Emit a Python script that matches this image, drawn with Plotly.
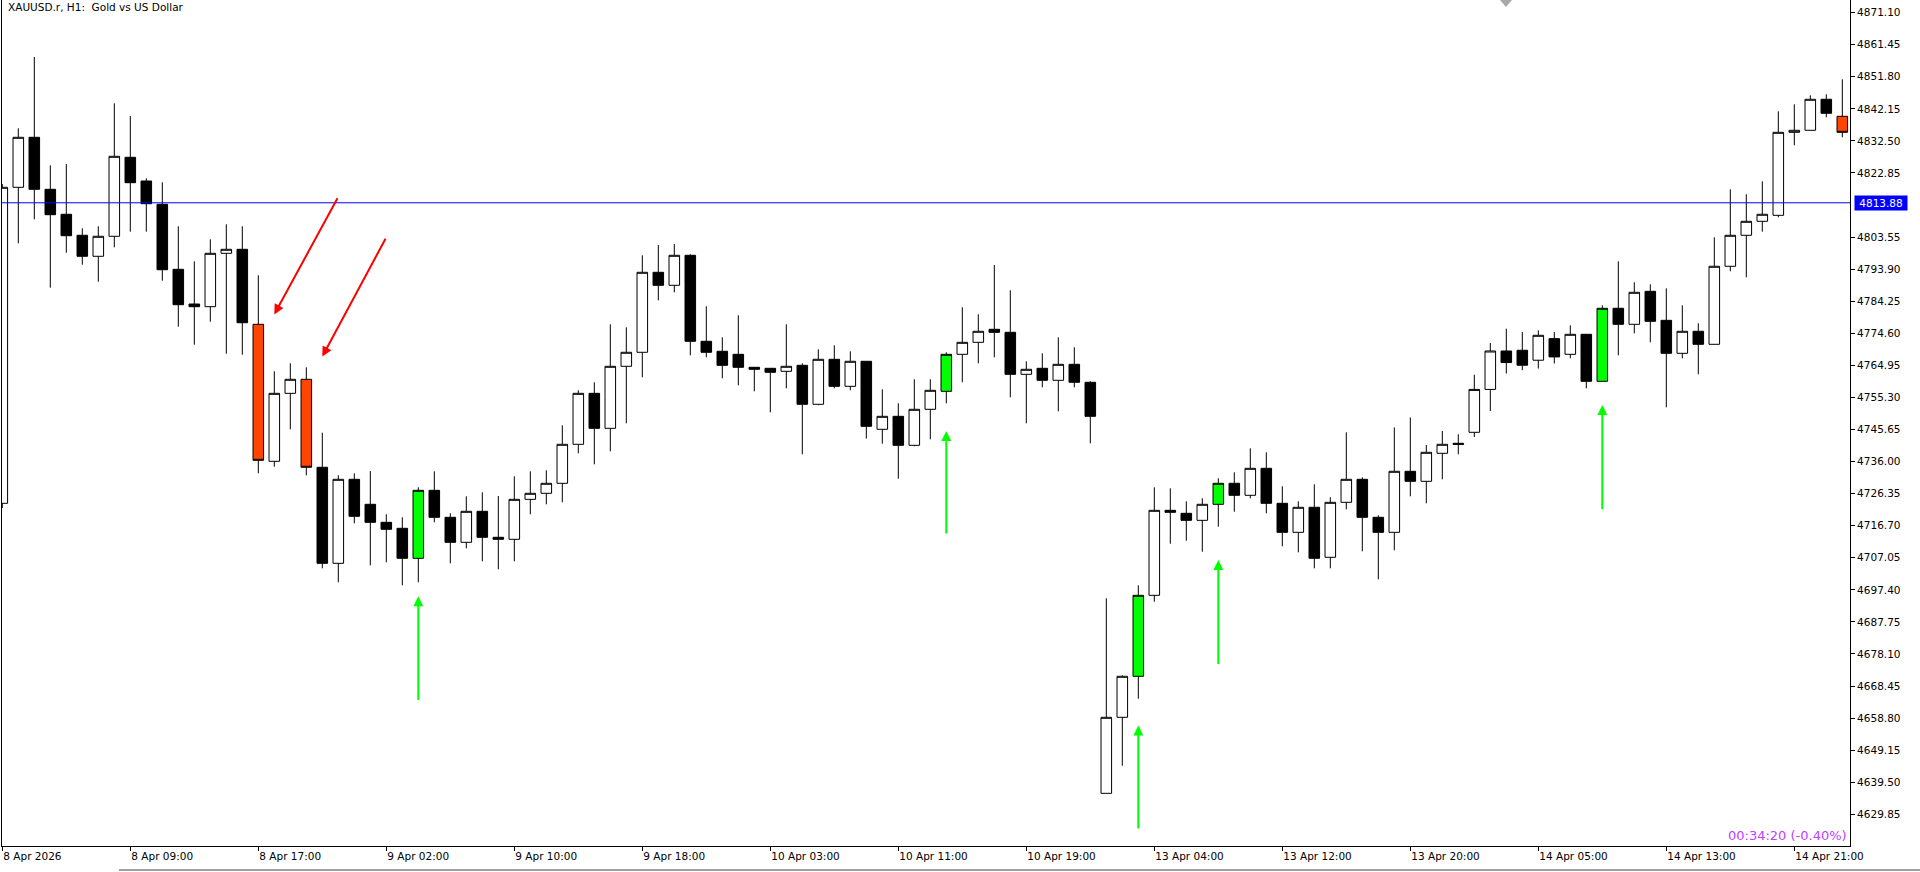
import plotly.graph_objects as go

# XAUUSD.r H1 bars, 8 Apr 2026 01:00 -> 15 Apr 01:00 (server time), one value per bar
open_ = [4723.44, 4818.54, 4833.59, 4817.94, 4810.42, 4804.10, 4797.78, 4803.80, 4827.57, 4820.44,
         4813.43, 4793.86, 4783.42, 4782.61, 4798.68, 4799.88, 4777.31, 4736.08, 4756.54, 4760.76,
         4734.28, 4705.38, 4730.66, 4723.14, 4717.72, 4715.92, 4706.89, 4727.35, 4719.23, 4711.70,
         4721.03, 4713.21, 4712.61, 4724.64, 4726.45, 4729.46, 4741.20, 4756.54, 4746.01, 4764.67,
         4768.89, 4792.96, 4789.05, 4798.08, 4772.20, 4769.19, 4768.28, 4764.37, 4764.07, 4763.17,
         4764.97, 4753.24, 4766.78, 4758.65, 4766.18, 4745.71, 4749.62, 4740.90, 4751.73, 4757.15,
         4768.28, 4771.89, 4775.81, 4774.90, 4762.26, 4764.07, 4760.46, 4765.27, 4759.86, 4636.16,
         4659.04, 4671.38, 4695.75, 4721.33, 4720.43, 4718.32, 4723.14, 4729.46, 4725.85, 4733.97,
         4723.44, 4714.71, 4722.24, 4707.19, 4723.74, 4730.66, 4719.23, 4714.71, 4733.07, 4730.06,
         4738.49, 4741.50, 4744.81, 4757.72, 4769.28, 4769.50, 4766.50, 4773.00, 4768.28, 4774.30,
         4760.16, 4782.13, 4777.31, 4787.24, 4778.51, 4768.58, 4775.21, 4771.29, 4794.77, 4804.10,
         4808.31, 4810.11, 4835.09, 4835.70, 4845.03, 4839.91]
high = [4819.50, 4836.30, 4857.76, 4825.16, 4825.55, 4806.20, 4806.80, 4843.82, 4840.00, 4821.25,
        4820.05, 4806.80, 4796.27, 4802.89, 4807.41, 4806.80, 4792.06, 4763.17, 4765.57, 4764.37,
        4744.69, 4731.87, 4732.47, 4733.16, 4720.13, 4719.23, 4728.26, 4733.07, 4720.43, 4725.55,
        4726.75, 4725.64, 4731.57, 4733.07, 4733.37, 4746.91, 4757.45, 4759.86, 4777.31, 4776.41,
        4798.08, 4801.18, 4801.48, 4798.38, 4782.73, 4773.40, 4780.02, 4764.37, 4764.07, 4777.31,
        4765.57, 4769.79, 4770.99, 4769.19, 4766.18, 4757.75, 4753.54, 4760.76, 4760.76, 4768.89,
        4782.43, 4780.32, 4795.16, 4787.54, 4766.18, 4768.58, 4773.40, 4770.39, 4760.16, 4694.85,
        4671.68, 4698.76, 4728.26, 4727.95, 4724.04, 4724.94, 4730.97, 4732.77, 4739.99, 4738.79,
        4728.56, 4724.04, 4729.16, 4725.25, 4744.81, 4731.27, 4719.83, 4746.28, 4749.26, 4740.99,
        4745.20, 4744.21, 4762.14, 4771.69, 4776.00, 4775.00, 4775.50, 4775.00, 4777.01, 4774.30,
        4783.03, 4796.27, 4789.95, 4789.35, 4788.14, 4783.03, 4777.61, 4803.49, 4817.94, 4816.44,
        4820.35, 4841.41, 4843.52, 4846.23, 4846.53, 4851.04]
low = [4722.00, 4801.69, 4808.91, 4788.33, 4798.86, 4795.25, 4790.13, 4800.48, 4805.18, 4805.18,
       4790.43, 4776.59, 4771.17, 4778.09, 4768.46, 4768.16, 4732.47, 4734.46, 4745.71, 4731.87,
       4703.88, 4699.67, 4717.42, 4704.78, 4705.68, 4698.76, 4699.67, 4717.72, 4705.38, 4709.89,
       4705.98, 4703.58, 4705.98, 4720.13, 4723.14, 4723.74, 4738.49, 4735.18, 4739.09, 4747.52,
       4761.36, 4784.53, 4786.94, 4767.98, 4767.38, 4761.06, 4758.95, 4757.15, 4750.83, 4758.05,
       4738.19, 4752.94, 4758.05, 4757.45, 4742.94, 4741.38, 4730.85, 4740.60, 4742.70, 4753.54,
       4759.86, 4765.57, 4767.38, 4755.34, 4747.52, 4758.35, 4751.13, 4758.35, 4741.50, 4636.16,
       4644.47, 4664.63, 4693.83, 4711.28, 4712.19, 4708.87, 4716.40, 4720.91, 4724.94, 4720.43,
       4710.50, 4708.69, 4703.88, 4703.88, 4721.63, 4708.99, 4700.57, 4709.30, 4725.55, 4723.44,
       4730.66, 4738.19, 4743.39, 4751.22, 4762.50, 4763.50, 4764.00, 4765.50, 4767.08, 4758.05,
       4760.16, 4767.98, 4774.60, 4771.89, 4752.33, 4767.08, 4762.26, 4771.29, 4793.26, 4791.46,
       4805.18, 4809.51, 4831.18, 4835.70, 4839.61, 4833.59]
close = [4818.54, 4833.59, 4817.94, 4810.30, 4803.98, 4797.78, 4803.80, 4827.87, 4819.93, 4813.61,
         4793.74, 4783.21, 4782.61, 4798.68, 4799.88, 4777.79, 4736.38, 4756.54, 4760.76, 4734.28,
         4705.38, 4730.66, 4719.53, 4717.72, 4715.62, 4706.89, 4727.35, 4719.23, 4711.70, 4721.03,
         4713.21, 4712.61, 4724.64, 4726.45, 4729.46, 4741.20, 4756.54, 4746.01, 4764.67, 4768.89,
         4792.96, 4789.05, 4798.08, 4772.20, 4768.89, 4764.97, 4764.37, 4763.77, 4762.87, 4764.67,
         4753.24, 4766.78, 4758.65, 4766.18, 4746.61, 4749.62, 4740.90, 4751.73, 4757.45, 4768.28,
         4771.89, 4775.21, 4774.90, 4762.26, 4763.77, 4760.46, 4765.27, 4759.86, 4749.62, 4659.04,
         4671.38, 4695.75, 4721.33, 4720.73, 4718.32, 4723.14, 4729.46, 4725.85, 4733.97, 4723.44,
         4714.71, 4722.24, 4706.89, 4723.74, 4730.66, 4719.23, 4714.71, 4733.07, 4730.06, 4738.79,
         4741.20, 4741.20, 4757.72, 4769.28, 4765.80, 4765.00, 4774.00, 4767.50, 4774.30, 4760.16,
         4782.13, 4777.31, 4786.94, 4778.21, 4768.58, 4775.21, 4771.29, 4794.77, 4804.10, 4808.31,
         4810.42, 4835.09, 4835.70, 4845.03, 4840.81, 4835.09]

# bars painted by the indicator
red_marked = [16, 19, 115]
green_marked = [26, 59, 71, 76, 100]

price_ticks = [4871.10, 4861.45, 4851.80, 4842.15, 4832.50, 4822.85, 4803.55, 4793.90, 4784.25,
               4774.60, 4764.95, 4755.30, 4745.65, 4736.00, 4726.35, 4716.70, 4707.05, 4697.40,
               4687.75, 4678.10, 4668.45, 4658.80, 4649.15, 4639.50, 4629.85]
time_tick_idx = [0, 8, 16, 24, 32, 40, 48, 56, 64, 72, 80, 88, 96, 104, 112]
time_tick_text = ["8 Apr 2026", "8 Apr 09:00", "8 Apr 17:00", "9 Apr 02:00", "9 Apr 10:00",
                  "9 Apr 18:00", "10 Apr 03:00", "10 Apr 11:00", "10 Apr 19:00", "13 Apr 04:00",
                  "13 Apr 12:00", "13 Apr 20:00", "14 Apr 05:00", "14 Apr 13:00", "14 Apr 21:00"]

hline_price = 4813.88
timer_text = "00:34:20 (-0.40%)"

# arrows drawn on the chart: (tip bar, tip price, tail bar, tail price)
red_arrows = [(17.0, 4780.3, 21.0, 4815.7), (20.0, 4767.6, 24.0, 4803.5)]
green_arrows = [(26, 4695.5, 26, 4663.8), (59, 4745.2, 59, 4713.9), (71, 4656.6, 71, 4625.1),
                (76, 4706.4, 76, 4674.6), (100, 4753.0, 100, 4721.2)]

FONT = "DejaVu Sans"


def pick(idx):
    return ([i for i in idx], [open_[i] for i in idx], [high[i] for i in idx],
            [low[i] for i in idx], [close[i] for i in idx])


plain = [i for i in range(len(open_)) if i not in red_marked + green_marked]

fig = go.Figure()

for idx, up_fill, down_fill in [(plain, "white", "black"),
                                (red_marked, "#FF4500", "#FF4500"),
                                (green_marked, "#00FF00", "#00FF00")]:
    x, o, h, l, c = pick(idx)
    fig.add_trace(go.Candlestick(
        x=x, open=o, high=h, low=l, close=c,
        increasing=dict(line=dict(color="black", width=1), fillcolor=up_fill),
        decreasing=dict(line=dict(color="black", width=1), fillcolor=down_fill),
        whiskerwidth=0, showlegend=False, hoverinfo="skip"))

# horizontal line + its price label
fig.add_shape(type="line", xref="paper", x0=0, x1=1, yref="y", y0=hline_price, y1=hline_price,
              line=dict(color="#0000FF", width=1))
fig.add_annotation(xref="paper", x=1, xanchor="left", xshift=4, yref="y", y=hline_price,
                   text=f"{hline_price:.2f}", showarrow=False, bgcolor="#0000FF",
                   font=dict(family=FONT, size=10.5, color="white"), borderpad=1, width=50, height=12)

for tx, ty, sx, sy in red_arrows:
    fig.add_annotation(x=tx, y=ty, ax=sx, ay=sy, xref="x", yref="y", axref="x", ayref="y",
                       text="", showarrow=True, arrowhead=2, arrowsize=1, arrowwidth=2,
                       arrowcolor="#FF0000")
for tx, ty, sx, sy in green_arrows:
    fig.add_annotation(x=tx, y=ty, ax=sx, ay=sy, xref="x", yref="y", axref="x", ayref="y",
                       text="", showarrow=True, arrowhead=2, arrowsize=1, arrowwidth=2,
                       arrowcolor="#00FF00")

# symbol caption and bar timer
fig.add_annotation(xref="paper", yref="paper", x=0, y=1, xanchor="left", yanchor="top",
                   xshift=4, yshift=1, showarrow=False,
                   text="XAUUSD.r, H1:\u00a0 Gold vs US Dollar",
                   font=dict(family=FONT, size=10.5, color="black"))
fig.add_annotation(xref="paper", yref="paper", x=1, y=0, xanchor="right", yanchor="bottom",
                   xshift=-1, yshift=1, showarrow=False, text=timer_text,
                   font=dict(family=FONT, size=13, color="#BF40FF"))

# chart-shift marker at the top and the window edge under the time scale
fig.add_shape(type="path", xref="paper", yref="paper",
              path="M 0.8106 1 L 0.8171 1 L 0.81385 0.9917 Z",
              fillcolor="#A8A8A8", line=dict(width=0))
fig.add_shape(type="line", xref="paper", yref="paper", x0=0.0633, x1=1.04, y0=-0.0284, y1=-0.0284,
              line=dict(color="#404040", width=1))

fig.update_layout(
    width=1920, height=872,
    margin=dict(l=2, r=70, t=0, b=26),
    paper_bgcolor="white", plot_bgcolor="white",
    boxgap=0.34, boxgroupgap=0,
    font=dict(family=FONT, size=10.5, color="black"),
    xaxis=dict(type="linear", range=[-0.019, 115.481], rangeslider=dict(visible=False),
               showgrid=False, zeroline=False, showline=True, linecolor="black", linewidth=1,
               ticks="outside", ticklen=4, tickcolor="black",
               tickvals=time_tick_idx, ticktext=time_tick_text,
               ticklabelposition="outside right", tickfont=dict(family=FONT, size=10.5)),
    yaxis=dict(side="right", range=[4620.31, 4874.91], showgrid=False, zeroline=False,
               showline=True, mirror=True, linecolor="black", linewidth=1,
               ticks="outside", ticklen=4, tickcolor="black",
               tickvals=price_ticks, ticktext=[f"{v:.2f}" for v in price_ticks],
               tickfont=dict(family=FONT, size=10.5)),
)

# page body has a default 8px margin; remove it so the figure fills the window
fig.write_html("out.html", config={"displayModeBar": False},
               post_script="document.body.style.margin='0';")
